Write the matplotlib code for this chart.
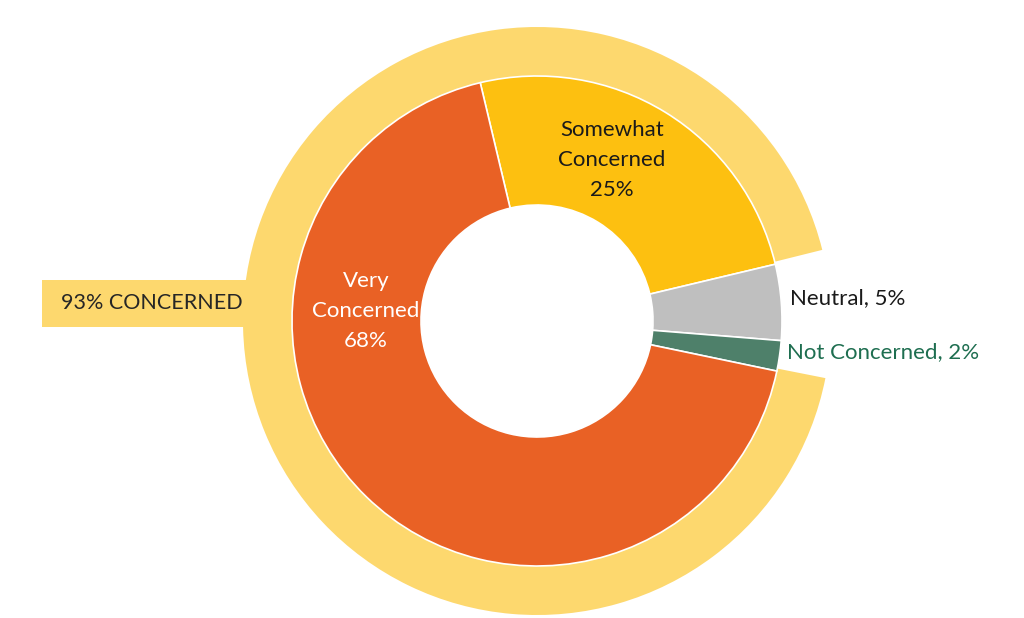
import matplotlib.pyplot as plt
from matplotlib.patches import Rectangle

plt.rcParams['font.family'] = ['Lato', 'DejaVu Sans']

labels = ["Somewhat Concerned", "Neutral", "Not Concerned", "Very Concerned"]
values = [25, 5, 2, 68]
colors = ["#FDC010", "#BFBFBF", "#4E806A", "#E96125"]
outer_values = [7, 93]
outer_colors = ["none", "#FDD86E"]

fig = plt.figure(figsize=(10.24, 6.18), dpi=100)
ax = fig.add_axes([0, 0, 1, 1])

cx, cy = 537, 297

# outer "concerned" ring
ax.pie(outer_values, colors=outer_colors, startangle=14, counterclock=False,
       radius=294, center=(cx, cy), wedgeprops=dict(width=50, edgecolor="none"),
       frame=True)

# label box attached to the ring
ax.add_patch(Rectangle((42, 291), 230, 47, facecolor="#FDD86E", edgecolor="none", zorder=0.5))
ax.text(152, 315, "93% CONCERNED", ha="center", va="center", fontsize=15.5, color="#262626")

# inner donut
ax.pie(values, colors=colors, startangle=103.4, counterclock=False,
       radius=245, center=(cx, cy), wedgeprops=dict(width=129, edgecolor="white", linewidth=1.2),
       frame=True)

ax.set_xlim(0, 1024)
ax.set_ylim(0, 618)
ax.set_aspect("equal")
ax.axis("off")

ax.text(612, 458, "Somewhat\nConcerned\n%d%%" % values[0], ha="center", va="center",
        fontsize=16, color="#1a1a1a", linespacing=1.6)
ax.text(366, 307, "Very\nConcerned\n%d%%" % values[3], ha="center", va="center",
        fontsize=16, color="white", linespacing=1.6)
ax.text(790, 320, "%s, %d%%" % (labels[1], values[1]), ha="left", va="center",
        fontsize=16, color="#1a1a1a")
ax.text(787, 266, "%s, %d%%" % (labels[2], values[2]), ha="left", va="center",
        fontsize=16, color="#1E6E50")

plt.savefig("out.png", dpi=100)
